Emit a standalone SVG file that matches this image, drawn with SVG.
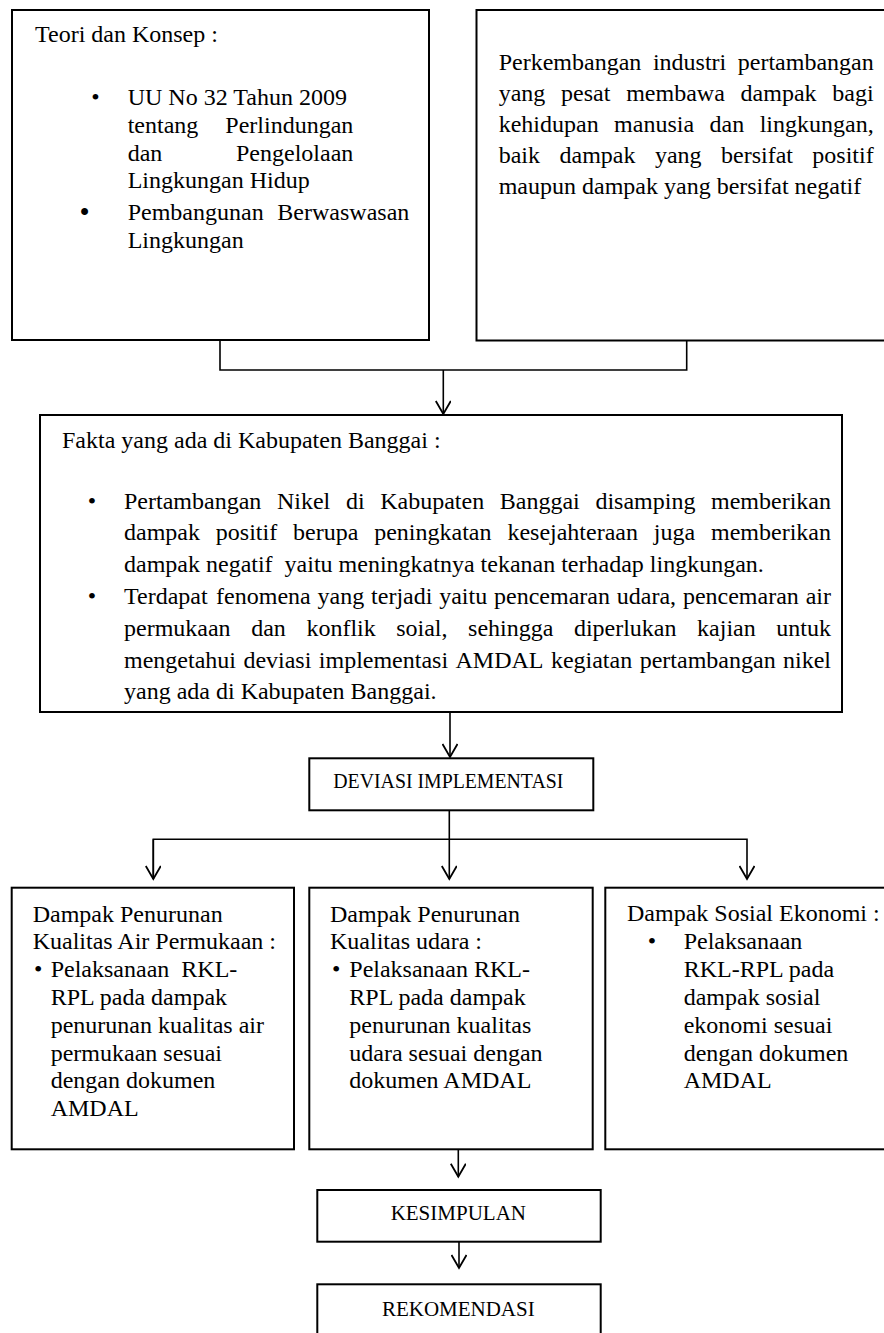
<svg xmlns="http://www.w3.org/2000/svg" width="884" height="1333" viewBox="0 0 884 1333">
<defs>
<style>
.box{fill:#fff;stroke:#000;stroke-width:2}
.t{font-family:"Liberation Serif","Times New Roman",serif;font-size:24px;fill:#000}
.s{font-family:"Liberation Serif","Times New Roman",serif;font-size:21px;fill:#000}
.conn{fill:none;stroke:#000;stroke-width:1.6}
.arr{fill:none;stroke:#000;stroke-width:1.6;marker-end:url(#ah)}
</style>
<marker id="ah" viewBox="0 0 16 16" markerWidth="16" markerHeight="16" refX="14" refY="8" orient="auto" markerUnits="userSpaceOnUse">
<path d="M1,0.5 L14,8 L1,15.5" fill="none" stroke="#000" stroke-width="1.8"/>
</marker>
</defs>
<rect width="884" height="1333" fill="#fff"/>

<g id="connectors">
<polyline class="conn" points="220,341 220,370 686.7,370 686.7,341"/>
<line class="arr" x1="443.3" y1="370" x2="443.3" y2="414"/>
<line class="arr" x1="450" y1="712" x2="450" y2="757"/>
<line class="arr" x1="449.3" y1="811" x2="449.3" y2="879"/>
<polyline class="conn" points="153.3,879 153.3,839.3 747,839.3 747,879" style="marker-end:url(#ah)"/>
<line class="arr" x1="153.3" y1="839.3" x2="153.3" y2="879"/>
<line class="arr" x1="458.3" y1="1136.7" x2="458.3" y2="1176.7"/>
<line class="arr" x1="459" y1="1227" x2="459" y2="1268"/>
</g>

<g id="teori">
<rect class="box" x="12" y="10" width="417" height="330"/>
<text class="t" x="35" y="41.7">Teori dan Konsep :</text>
<text class="t" x="95.5" y="105" text-anchor="middle">•</text>
<text class="t" x="127.7" y="105">UU No 32 Tahun 2009</text>
<text class="t" y="133.3"><tspan x="127.7">tentang</tspan><tspan x="353.3" text-anchor="end">Perlindungan</tspan></text>
<text class="t" y="161"><tspan x="127.7">dan</tspan><tspan x="353.3" text-anchor="end">Pengelolaan</tspan></text>
<text class="t" x="127.7" y="188.3">Lingkungan Hidup</text>
<text class="t" x="84.7" y="221.5" text-anchor="middle" style="font-size:29px">•</text>
<text class="t" y="220"><tspan x="127.7">Pembangunan</tspan><tspan x="409.3" text-anchor="end">Berwaswasan</tspan></text>
<text class="t" x="127.7" y="248.3">Lingkungan</text>
</g>

<g id="perkembangan">
<rect class="box" x="476.5" y="10" width="420" height="330.5"/>
<text class="t" y="70"><tspan x="498.7">Perkembangan</tspan><tspan x="652.9">industri</tspan><tspan x="873.7" text-anchor="end">pertambangan</tspan></text>
<text class="t" y="100.9"><tspan x="498.7">yang</tspan><tspan x="561.1">pesat</tspan><tspan x="626.2">membawa</tspan><tspan x="740.6">dampak</tspan><tspan x="873.7" text-anchor="end">bagi</tspan></text>
<text class="t" y="131.8"><tspan x="498.7">kehidupan</tspan><tspan x="614.1">manusia</tspan><tspan x="709.6">dan</tspan><tspan x="873.7" text-anchor="end">lingkungan,</tspan></text>
<text class="t" y="162.7"><tspan x="498.7">baik</tspan><tspan x="559.5">dampak</tspan><tspan x="654.9">yang</tspan><tspan x="721">bersifat</tspan><tspan x="873.7" text-anchor="end">positif</tspan></text>
<text class="t" x="498.7" y="193.6">maupun dampak yang bersifat negatif</text>
</g>

<g id="fakta">
<rect class="box" x="40" y="415" width="802" height="297"/>
<text class="t" x="62" y="448.3">Fakta yang ada di Kabupaten Banggai :</text>
<text class="t" x="92" y="508.5" text-anchor="middle">•</text>
<text class="t" y="508.5"><tspan x="124">Pertambangan</tspan><tspan x="276.9">Nikel</tspan><tspan x="345.9">di</tspan><tspan x="380.2">Kabupaten</tspan><tspan x="499.8">Banggai</tspan><tspan x="595.4">disamping</tspan><tspan x="831" text-anchor="end">memberikan</tspan></text>
<text class="t" y="540.3"><tspan x="124">dampak</tspan><tspan x="215.8">positif</tspan><tspan x="293">berupa</tspan><tspan x="374.2">peningkatan</tspan><tspan x="507.4">kesejahteraan</tspan><tspan x="653.8">juga</tspan><tspan x="831" text-anchor="end">memberikan</tspan></text>
<text class="t" x="124" y="572.1" xml:space="preserve">dampak negatif  yaitu meningkatnya tekanan terhadap lingkungan.</text>
<text class="t" x="92" y="603.9" text-anchor="middle">•</text>
<text class="t" y="603.9"><tspan x="124">Terdapat</tspan><tspan x="216.1">fenomena</tspan><tspan x="317.6">yang</tspan><tspan x="371.1">terjadi</tspan><tspan x="439.2">yaitu</tspan><tspan x="494">pencemaran</tspan><tspan x="616.8">udara,</tspan><tspan x="682.9">pencemaran</tspan><tspan x="831" text-anchor="end">air</tspan></text>
<text class="t" y="635.7"><tspan x="124">permukaan</tspan><tspan x="251.2">dan</tspan><tspan x="306.4">konflik</tspan><tspan x="396.2">soial,</tspan><tspan x="468.1">sehingga</tspan><tspan x="573.9">diperlukan</tspan><tspan x="697.1">kajian</tspan><tspan x="831" text-anchor="end">untuk</tspan></text>
<text class="t" y="667.5"><tspan x="124">mengetahui</tspan><tspan x="243.4">deviasi</tspan><tspan x="318.8">implementasi</tspan><tspan x="455.5">AMDAL</tspan><tspan x="550.9">kegiatan</tspan><tspan x="639.7">pertambangan</tspan><tspan x="831" text-anchor="end">nikel</tspan></text>
<text class="t" x="124" y="699.3">yang ada di Kabupaten Banggai.</text>
</g>

<g id="deviasi">
<rect class="box" x="309.3" y="758.3" width="284" height="52"/>
<text class="s" x="333.3" y="788.3" textLength="230" lengthAdjust="spacingAndGlyphs">DEVIASI IMPLEMENTASI</text>
</g>

<g id="air">
<rect class="box" x="11.7" y="887.7" width="282.3" height="261.6"/>
<text class="t" x="32.7" y="921.5">Dampak Penurunan</text>
<text class="t" x="32.7" y="949.3">Kualitas Air Permukaan :</text>
<text class="t" x="38.3" y="977.1" text-anchor="middle">•</text>
<text class="t" x="50.7" y="977.1" xml:space="preserve">Pelaksanaan  RKL-</text>
<text class="t" x="50.7" y="1004.9">RPL pada dampak</text>
<text class="t" x="50.7" y="1032.7">penurunan kualitas air</text>
<text class="t" x="50.7" y="1060.5">permukaan sesuai</text>
<text class="t" x="50.7" y="1088.3">dengan dokumen</text>
<text class="t" x="50.7" y="1116.1">AMDAL</text>
</g>

<g id="udara">
<rect class="box" x="309.3" y="887.7" width="283.4" height="261.6"/>
<text class="t" x="330" y="921.5">Dampak Penurunan</text>
<text class="t" x="330" y="949.3">Kualitas udara :</text>
<text class="t" x="336.2" y="977.1" text-anchor="middle">•</text>
<text class="t" x="349.3" y="977.1">Pelaksanaan RKL-</text>
<text class="t" x="349.3" y="1004.9">RPL pada dampak</text>
<text class="t" x="349.3" y="1032.7">penurunan kualitas</text>
<text class="t" x="349.3" y="1060.5">udara sesuai dengan</text>
<text class="t" x="349.3" y="1088.3">dokumen AMDAL</text>
</g>

<g id="sosial">
<rect class="box" x="605.3" y="887.7" width="290" height="261.6"/>
<text class="t" x="627" y="920.5">Dampak Sosial Ekonomi :</text>
<text class="t" x="652" y="949.3" text-anchor="middle">•</text>
<text class="t" x="683.7" y="949.3">Pelaksanaan</text>
<text class="t" x="683.7" y="977.1">RKL-RPL pada</text>
<text class="t" x="683.7" y="1004.9">dampak sosial</text>
<text class="t" x="683.7" y="1032.7">ekonomi sesuai</text>
<text class="t" x="683.7" y="1060.5">dengan dokumen</text>
<text class="t" x="683.7" y="1088.3">AMDAL</text>
</g>

<g id="kesimpulan">
<rect class="box" x="317.3" y="1190" width="283.4" height="51.7"/>
<text class="s" x="458.3" y="1220" text-anchor="middle">KESIMPULAN</text>
</g>

<g id="rekomendasi">
<rect class="box" x="317.3" y="1284.3" width="283.4" height="60"/>
<text class="s" x="458.3" y="1316" text-anchor="middle">REKOMENDASI</text>
</g>
</svg>
